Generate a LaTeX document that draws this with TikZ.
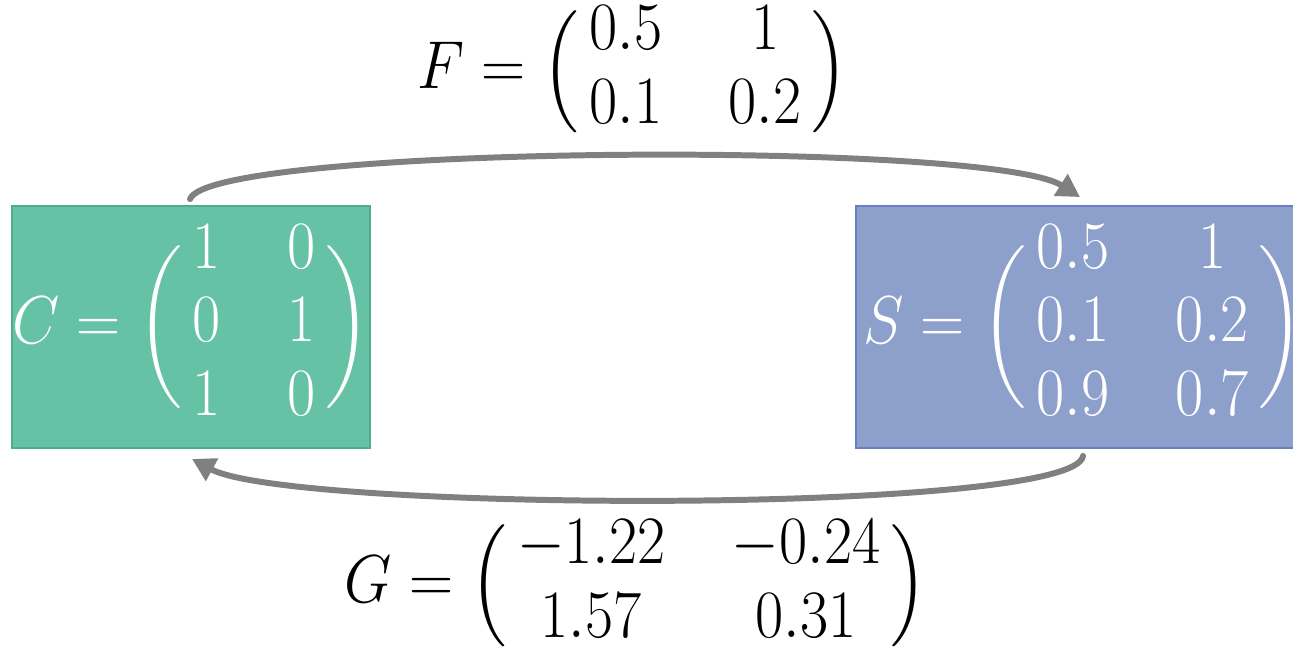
\documentclass[tikz,border=0pt]{standalone}
\usepackage{amsmath}
\usepackage{graphicx}
\usetikzlibrary{arrows.meta,calc}
\definecolor{cfill}{HTML}{66C2A5}
\definecolor{cline}{HTML}{4DAE8A}
\definecolor{sfill}{HTML}{8DA0CB}
\definecolor{sline}{HTML}{6A7FC0}
\definecolor{arrgray}{HTML}{808080}
\delimiterfactor=700
\delimitershortfall=30pt
\newcommand{\mymat}[1]{\left(\begin{array}{@{\,}cc@{\,}}#1\end{array}\right)}
\newcommand{\bigeq}[1]{\scalebox{1.4}[1.55]{\Huge\renewcommand\arraystretch{0.9}\setlength\arraycolsep{13.5pt}$#1$}}
\tikzset{
  matbox/.style={rectangle, inner sep=0pt, line width=1.1pt, text=white, minimum height=4.84cm},
  eqlabel/.style={inner sep=0pt, text=black},
  flow/.style={draw=arrgray, line width=3.4pt, line cap=round, -{Triangle[length=13pt,width=14pt]}}
}
\begin{document}
\begin{tikzpicture}[x=0.02cm,y=-0.02cm]
\clip (0,0) rectangle (1293,649);
\fill[white] (0,0) rectangle (1293,649);
\node[matbox, fill=cfill, draw=cline, minimum width=7.16cm, text width=7.16cm, align=center] (C) at (191,327)
  {\bigeq{C = \mymat{1&0\\0&1\\1&0}}};
\node[matbox, fill=sfill, draw=sline, minimum width=8.92cm, text width=8.92cm, align=center] (S) at (1079,327)
  {\hspace*{4pt}\bigeq{S = \mymat{0.5&1\\0.1&0.2\\0.9&0.7}}};
\node[eqlabel] (F) at (633,72) {\bigeq{F = \mymat{0.5&1\\0.1&0.2}}};
\node[eqlabel] (G) at (636,586) {\bigeq{G = \mymat{-1.22&-0.24\\1.57&0.31}}};
\draw[flow] ($(C.north)+(-1,-6)$) .. controls (210,145) and (990,140) .. ($(S.north)+(1,-8)$);
\draw[flow] ($(S.south)+(4,7)$) .. controls (1075,515) and (290,512) .. ($(C.south)+(1,10)$);
\end{tikzpicture}
\end{document}
